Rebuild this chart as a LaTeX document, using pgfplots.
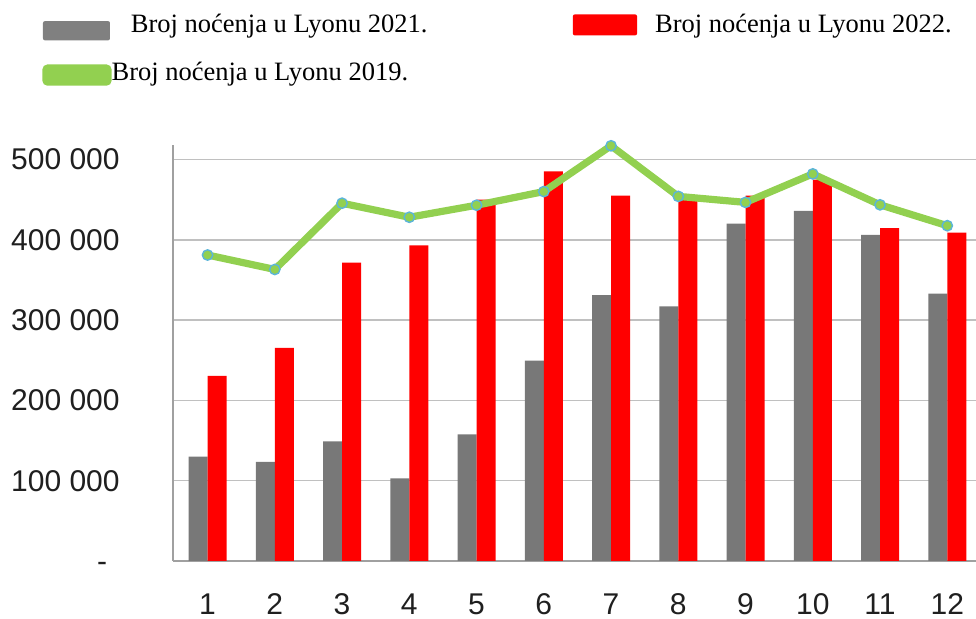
\documentclass[border=0pt]{standalone}
\usepackage{fontspec}
\setmainfont{Liberation Serif}
\newfontfamily\arialf{Liberation Sans}
\usepackage{pgfplots}
\pgfplotsset{compat=1.18}
\definecolor{barGray}{HTML}{787878}
\definecolor{legGray}{HTML}{808080}
\definecolor{barRed}{HTML}{FF0000}
\definecolor{lineGreen}{HTML}{92D050}
\definecolor{markBlue}{HTML}{5BB5D9}
\definecolor{gridGray}{HTML}{C0C0C0}
\definecolor{axisGray}{HTML}{A0A0A0}
\begin{document}
\begin{tikzpicture}
\begin{axis}[
  name=ax,
  scale only axis, width=401.5pt, height=208pt,
  xmin=0.486, xmax=12.427, ymin=0, ymax=518000,
  axis x line*=bottom, axis y line*=left,
  axis line style={axisGray, line width=0.8pt},
  major tick length=0pt,
  xtick={1,2,3,4,5,6,7,8,9,10,11,12},
  xticklabels={1,2,3,4,5,6,7,8,9,10,11,12},
  ytick={0,100000,200000,300000,400000,500000},
  yticklabels={{-\hspace*{6.3pt}\vphantom{0}},100 000,200 000,300 000,400 000,500 000},
  scaled ticks=false,
  ymajorgrids, grid style={gridGray, line width=0.8pt},
  tick label style={font=\arialf\fontsize{15pt}{18pt}\selectfont, text=black!88},
  yticklabel style={inner sep=0pt, xshift=-26.5pt},
  xticklabel style={inner sep=0pt, yshift=-16pt},
  legend columns=2,
  legend style={draw=none, fill=none, inner sep=0pt, row sep=11pt,
    at={(-0.16314,1.3149)}, anchor=north west,
    nodes={inner sep=0pt, text height=9pt, text depth=0pt, anchor=west,
      font=\fontsize{13.25pt}{15pt}\selectfont},
    /tikz/every even column/.append style={column sep=72.6pt}},
]
\addplot[ybar, bar width=9.5pt, bar shift=-4.75pt, fill=barGray, draw=none,
  legend image code/.code={\fill[legGray, rounded corners=1pt] (0pt,-8.35pt) rectangle (33.5pt,1.3pt);}]
  coordinates {(1,130000) (2,123500) (3,149000) (4,103000) (5,157500) (6,249500)
               (7,331000) (8,317000) (9,420000) (10,436000) (11,406000) (12,333000)};
\addlegendentry{\hspace*{9.7pt}Broj noćenja u Lyonu 2021.}
\addplot[ybar, bar width=9.5pt, bar shift=4.75pt, fill=barRed, draw=none,
  legend image code/.code={\fill[barRed, rounded corners=1pt] (0pt,-5.85pt) rectangle (32.15pt,4.65pt);}]
  coordinates {(1,230500) (2,265500) (3,371500) (4,393000) (5,450000) (6,485000)
               (7,455000) (8,450000) (9,455000) (10,475000) (11,414500) (12,409000)};
\addlegendentry{\hspace*{9pt}Broj noćenja u Lyonu 2022.}
\addplot[lineGreen, line width=3.6pt, mark=*, mark size=2.6pt,
  mark options={fill=lineGreen, draw=markBlue, line width=0.7pt},
  legend image code/.code={\fill[lineGreen, rounded corners=1pt] (1.5pt,-5.35pt) rectangle (32.5pt,1.65pt);}]
  coordinates {(1,381000) (2,363000) (3,445500) (4,428000) (5,443000) (6,460000)
               (7,517000) (8,454000) (9,446500) (10,482000) (11,443500) (12,417500)};
\addlegendentry{Broj noćenja u Lyonu 2019.}
\end{axis}
\pgfresetboundingbox
\useasboundingbox ([shift={(-86.5pt,-29pt)}]ax.south west) rectangle ++(488pt,309.5pt);
\end{tikzpicture}
\end{document}
